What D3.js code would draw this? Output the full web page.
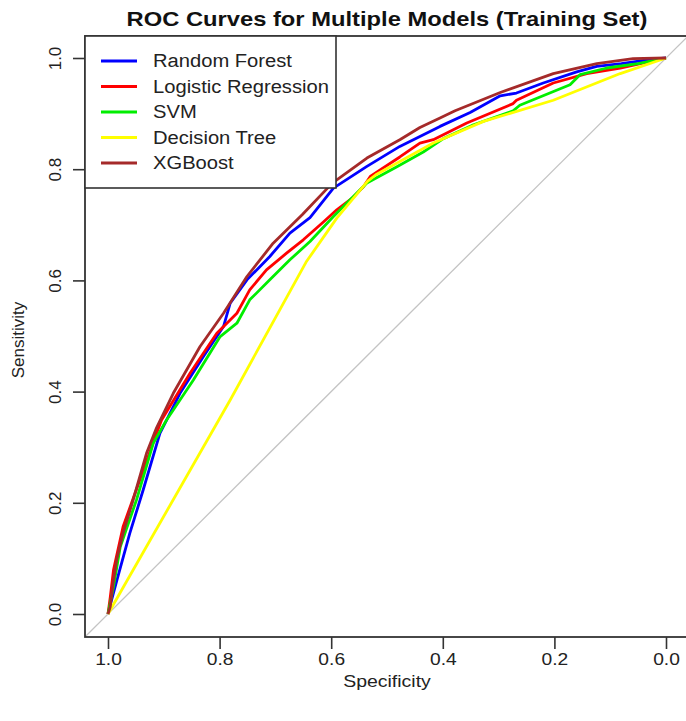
<!DOCTYPE html>
<html>
<head>
<meta charset="utf-8">
<script src="https://cdn.jsdelivr.net/npm/d3@7"></script>
<style>
  html, body { margin: 0; padding: 0; background: #fff; }
  svg { display: block; font-family: "Liberation Sans", Arial, sans-serif; }
</style>
</head>
<body>
<svg id="chart" width="686" height="721"></svg>
<script>
// ---- Data (specificity, sensitivity) ----
const modelNames = ["Random Forest", "Logistic Regression", "SVM", "Decision Tree", "XGBoost"];
const modelColors = ["#0000FF", "#FF0000", "#00EE00", "#FFFF00", "#A52A2A"];

const rfSpec = [1, 0.995, 0.984, 0.961, 0.937, 0.907, 0.871, 0.829, 0.793, 0.781, 0.751, 0.710, 0.674, 0.638, 0.596, 0.536, 0.477, 0.405, 0.351, 0.297, 0.268, 0.22, 0.16, 0.124, 0.08, 0.03, 0];
const rfSens = [0, 0.02, 0.061, 0.145, 0.223, 0.325, 0.397, 0.463, 0.517, 0.559, 0.601, 0.643, 0.685, 0.713, 0.766, 0.805, 0.841, 0.877, 0.902, 0.932, 0.937, 0.955, 0.975, 0.985, 0.99, 0.997, 1];

const lrSpec = [1, 0.996, 0.99, 0.973, 0.943, 0.913, 0.904, 0.853, 0.805, 0.769, 0.746, 0.716, 0.680, 0.650, 0.614, 0.590, 0.560, 0.542, 0.530, 0.477, 0.441, 0.417, 0.357, 0.274, 0.268, 0.202, 0.142, 0.082, 0];
const lrSens = [0, 0.03, 0.08, 0.157, 0.241, 0.325, 0.349, 0.433, 0.505, 0.541, 0.583, 0.619, 0.649, 0.673, 0.705, 0.727, 0.750, 0.769, 0.787, 0.822, 0.847, 0.853, 0.883, 0.918, 0.924, 0.955, 0.972, 0.982, 1];

const svmSpec = [1, 0.99, 0.978, 0.949, 0.919, 0.895, 0.847, 0.799, 0.769, 0.746, 0.710, 0.674, 0.638, 0.596, 0.536, 0.483, 0.435, 0.399, 0.345, 0.274, 0.262, 0.172, 0.154, 0.106, 0.05, 0];
const svmSens = [0, 0.05, 0.121, 0.205, 0.307, 0.349, 0.421, 0.499, 0.523, 0.565, 0.601, 0.637, 0.670, 0.715, 0.775, 0.804, 0.831, 0.855, 0.880, 0.905, 0.915, 0.952, 0.970, 0.982, 0.99, 1];

const dtSpec = [1, 0.781, 0.645, 0.590, 0.535, 0.520, 0.417, 0.327, 0.202, 0.082, 0];
const dtSens = [0, 0.385, 0.633, 0.712, 0.778, 0.790, 0.847, 0.886, 0.924, 0.972, 1];

const xgbSpec = [1, 0.996, 0.991, 0.984, 0.973, 0.955, 0.931, 0.913, 0.883, 0.835, 0.793, 0.751, 0.704, 0.652, 0.598, 0.536, 0.477, 0.441, 0.405, 0.378, 0.297, 0.202, 0.124, 0.059, 0];
const xgbSens = [0, 0.013, 0.055, 0.100, 0.145, 0.205, 0.289, 0.335, 0.397, 0.481, 0.541, 0.607, 0.667, 0.718, 0.775, 0.820, 0.853, 0.875, 0.892, 0.905, 0.938, 0.972, 0.990, 0.999, 1];

const tickValues = [1.0, 0.8, 0.6, 0.4, 0.2, 0.0];
const titleText = "ROC Curves for Multiple Models (Training Set)";
const xLabel = "Specificity";
const yLabel = "Sensitivity";

// ---- Layout ----
const svg = d3.select("#chart");
const box = { left: 85, right: 689, top: 36, bottom: 637 };
const stretch = 1.13; // horizontal text widening seen in the reference

const x = d3.scaleLinear().domain([1, 0]).range([108, 666]);
const y = d3.scaleLinear().domain([0, 1]).range([614, 58]);

const series = [
  { spec: rfSpec, sens: rfSens },
  { spec: lrSpec, sens: lrSens },
  { spec: svmSpec, sens: svmSens },
  { spec: dtSpec, sens: dtSens },
  { spec: xgbSpec, sens: xgbSens }
];

function widen(sel, f) {
  sel.each(function () {
    const w = this.getComputedTextLength();
    d3.select(this).attr("textLength", w * f).attr("lengthAdjust", "spacingAndGlyphs");
  });
}

svg.append("defs").append("clipPath").attr("id", "plotclip")
  .append("rect").attr("x", box.left).attr("y", box.top)
  .attr("width", box.right - box.left).attr("height", box.bottom - box.top);

const plot = svg.append("g").attr("clip-path", "url(#plotclip)");

// identity line
plot.append("line")
  .attr("x1", x(1.05)).attr("y1", y(-0.05))
  .attr("x2", x(-0.05)).attr("y2", y(1.05))
  .attr("stroke", "#c4c4c4").attr("stroke-width", 1.3);

const line = d3.line().x(d => x(d[0])).y(d => y(d[1]));

series.forEach((s, i) => {
  const pts = s.spec.map((v, j) => [v, s.sens[j]]);
  plot.append("path")
    .datum(pts)
    .attr("d", line)
    .attr("fill", "none")
    .attr("stroke", modelColors[i])
    .attr("stroke-width", 2.8)
    .attr("stroke-linejoin", "round");
});

// axes
const xAxis = d3.axisBottom(x).tickValues(tickValues).tickFormat(d3.format(".1f")).tickSize(12).tickSizeOuter(0);
const gx = svg.append("g").attr("transform", `translate(0,${box.bottom})`).call(xAxis);
gx.select(".domain").remove();
gx.selectAll(".tick line").attr("stroke", "#333").attr("stroke-width", 1.6);
gx.selectAll(".tick text").attr("fill", "#222").attr("font-size", 17).attr("dy", null).attr("y", 28)
  .attr("font-family", "'Liberation Sans', Arial, sans-serif")
  .call(widen, stretch);

const yAxis = d3.axisLeft(y).tickValues(tickValues).tickFormat(d3.format(".1f")).tickSize(12).tickSizeOuter(0);
const gy = svg.append("g").attr("transform", `translate(${box.left},0)`).call(yAxis);
gy.select(".domain").remove();
gy.selectAll(".tick line").attr("stroke", "#333").attr("stroke-width", 1.6);
gy.selectAll(".tick text").attr("fill", "#222").attr("font-size", 17)
  .attr("font-family", "'Liberation Sans', Arial, sans-serif")
  .attr("x", null).attr("dy", null)
  .attr("text-anchor", "middle")
  .attr("transform", "translate(-30,0) rotate(-90)")
  .attr("y", 0)
  .attr("dy", "0.36em");

// box
svg.append("rect")
  .attr("x", box.left).attr("y", box.top)
  .attr("width", box.right - box.left).attr("height", box.bottom - box.top)
  .attr("fill", "none").attr("stroke", "#333").attr("stroke-width", 1.8);

// title & labels
svg.append("text").attr("x", 387).attr("y", 26).attr("text-anchor", "middle")
  .attr("font-size", 21).attr("font-weight", "bold").attr("fill", "#111").text(titleText)
  .call(widen, stretch);
svg.append("text").attr("x", 387).attr("y", 687).attr("text-anchor", "middle")
  .attr("font-size", 17).attr("fill", "#222").text(xLabel)
  .call(widen, 1.145);
svg.append("text").attr("transform", "translate(24,340) rotate(-90)").attr("text-anchor", "middle")
  .attr("font-size", 17).attr("fill", "#222").text(yLabel);

// legend
const leg = svg.append("g");
leg.append("rect").attr("x", box.left).attr("y", box.top)
  .attr("width", 336 - box.left).attr("height", 188 - box.top)
  .attr("fill", "#fff").attr("stroke", "#333").attr("stroke-width", 1.6);
modelNames.forEach((name, i) => {
  const yy = 61 + i * 25.5;
  leg.append("line").attr("x1", 101).attr("x2", 137).attr("y1", yy).attr("y2", yy)
    .attr("stroke", modelColors[i]).attr("stroke-width", 3);
  leg.append("text").attr("x", 153).attr("y", yy).attr("dy", "0.36em")
    .attr("font-size", 18).attr("fill", "#222").text(name)
    .call(widen, 1.12);
});
</script>
</body>
</html>
